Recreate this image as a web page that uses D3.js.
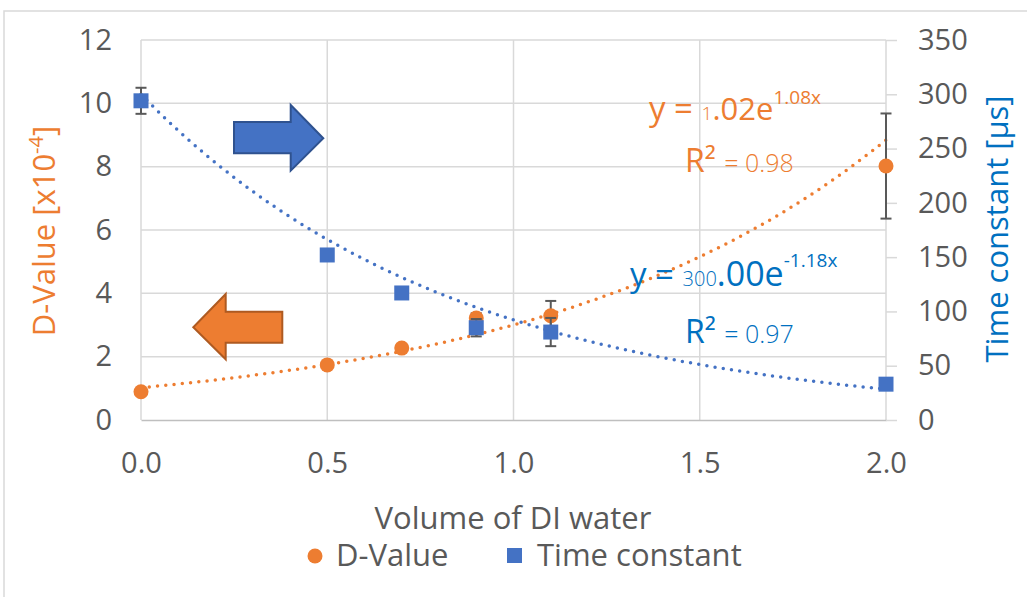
<!DOCTYPE html>
<html>
<head>
<meta charset="utf-8">
<script src="https://cdn.jsdelivr.net/npm/d3@7"></script>
<style>
  body { margin: 0; background: #fff; }
  svg { display: block; font-family: "Open Sans", "Noto Sans", sans-serif; }
</style>
</head>
<body>
<svg id="chart" width="1027" height="597"></svg>
<script>

// volume of DI water (x)
var volumes = [0, 0.5, 0.7, 0.9, 1.1, 2.0]

// D-Value [x10^-4] (left axis)
var dValues = [0.89, 1.74, 2.27, 3.22, 3.29, 8.02]
var dErrors = [0, 0, 0, 0.15, 0.47, 1.66]

// time constant [us] (right axis)
var timeConstants = [294, 152, 117, 85, 81, 33]
var timeErrors = [12, 0, 0, 8, 13, 0]

// exponential trendlines y = a * e^(b x)
var dFit = [1.02, 1.08]
var timeFit = [300, -1.18]

var xTicks = [0, 0.5, 1.0, 1.5, 2.0]
var leftTicks = [0, 2, 4, 6, 8, 10, 12]
var rightTicks = [0, 50, 100, 150, 200, 250, 300, 350]

var orange = "#ED7D31", blue = "#4472C4", titleBlue = "#0070C0", grey = "#595959", grid = "#D9D9D9"

var svg = d3.select("#chart")

var x = d3.scaleLinear().domain([0, 2]).range([141, 886])
var yL = d3.scaleLinear().domain([0, 12]).range([420, 40])
var yR = d3.scaleLinear().domain([0, 350]).range([420, 40])

// outer frame of the chart area
svg.append("path")
    .attr("d", "M4,597V11H1027")
    .attr("fill", "none")
    .attr("stroke", grid)
    .attr("stroke-width", 1.5)

// gridlines
svg.append("g").selectAll("line")
    .data(leftTicks.slice(1))
  .enter().append("line")
    .attr("x1", x(0)).attr("x2", x(2))
    .attr("y1", d => yL(d)).attr("y2", d => yL(d))
    .attr("stroke", grid).attr("stroke-width", 1.5)

svg.append("g").selectAll("line")
    .data(xTicks)
  .enter().append("line")
    .attr("x1", d => x(d)).attr("x2", d => x(d))
    .attr("y1", yL(12)).attr("y2", yL(0))
    .attr("stroke", grid).attr("stroke-width", 1.5)

// axes
var gx = svg.append("g")
    .attr("transform", "translate(0," + yL(0) + ")")
    .call(d3.axisBottom(x).tickValues(xTicks).tickFormat(d3.format(".1f")).tickSize(0))
gx.select(".domain").attr("stroke", "#BFBFBF").attr("stroke-width", 1.5)
gx.selectAll("text").attr("y", 53).attr("dy", null)

var gl = svg.append("g")
    .attr("transform", "translate(" + x(0) + ",0)")
    .call(d3.axisLeft(yL).tickValues(leftTicks).tickSize(0).tickPadding(29))
gl.select(".domain").remove()

var gr = svg.append("g")
    .attr("transform", "translate(" + x(2) + ",0)")
    .call(d3.axisRight(yR).tickValues(rightTicks).tickSizeInner(11).tickSizeOuter(0).tickPadding(21))
gr.select(".domain").remove()
gr.selectAll("line").attr("stroke", grid).attr("stroke-width", 1.5)

svg.selectAll(".tick text")
    .attr("fill", grey)
    .style("font-size", "29px")
    .style("font-family", "'Open Sans', sans-serif")

// axis titles
svg.append("text")
    .attr("transform", "translate(55,231) rotate(-90)")
    .attr("text-anchor", "middle")
    .attr("fill", orange)
    .style("font-size", "31px")
    .call(t => {
      t.append("tspan").text("D-Value [x10")
      t.append("tspan").attr("dy", -12).style("font-size", "20px").text("-4")
      t.append("tspan").attr("dy", 12).text("]")
    })

svg.append("text")
    .attr("transform", "translate(1008,229) rotate(-90)")
    .attr("text-anchor", "middle")
    .attr("fill", titleBlue)
    .style("font-size", "31px")
    .text("Time constant [µs]")

svg.append("text")
    .attr("x", 513).attr("y", 529)
    .attr("text-anchor", "middle")
    .attr("fill", grey)
    .style("font-size", "31px")
    .text("Volume of DI water")

// trendlines
var xs = d3.range(0, 2.0001, 0.02)
var line = d3.line()

svg.append("path")
    .attr("d", line(xs.map(v => [x(v), yL(dFit[0] * Math.exp(dFit[1] * v))])))
    .attr("fill", "none").attr("stroke", orange)
    .attr("stroke-width", 3.5).attr("stroke-linecap", "round")
    .attr("stroke-dasharray", "0 8.3")

svg.append("path")
    .attr("d", line(xs.map(v => [x(v), yR(timeFit[0] * Math.exp(timeFit[1] * v))])))
    .attr("fill", "none").attr("stroke", blue)
    .attr("stroke-width", 3.5).attr("stroke-linecap", "round")
    .attr("stroke-dasharray", "0 8.3")

// error bars
function errorBars(vals, errs, y) {
  var g = svg.append("g").attr("stroke", grey).attr("stroke-width", 2)
  volumes.forEach(function(v, i) {
    if (!errs[i]) return
    var cx = x(v), top = y(vals[i] + errs[i]), bot = y(vals[i] - errs[i])
    g.append("line").attr("x1", cx).attr("x2", cx).attr("y1", top).attr("y2", bot)
    g.append("line").attr("x1", cx - 5.5).attr("x2", cx + 5.5).attr("y1", top).attr("y2", top)
    g.append("line").attr("x1", cx - 5.5).attr("x2", cx + 5.5).attr("y1", bot).attr("y2", bot)
  })
}

// D-Value series
errorBars(dValues, dErrors, yL)
svg.append("g").selectAll("circle")
    .data(volumes)
  .enter().append("circle")
    .attr("cx", d => x(d))
    .attr("cy", (d, i) => yL(dValues[i]))
    .attr("r", 7.5)
    .attr("fill", orange)

// Time constant series
errorBars(timeConstants, timeErrors, yR)
svg.append("g").selectAll("rect")
    .data(volumes)
  .enter().append("rect")
    .attr("x", d => x(d) - 7.5)
    .attr("y", (d, i) => yR(timeConstants[i]) - 7.5)
    .attr("width", 15).attr("height", 15)
    .attr("fill", blue)

// arrows pointing at each series' axis
svg.append("path")
    .attr("d", "M234,122H290.7V105L323.3,138.3L290.7,170.7V153.3H234Z")
    .attr("fill", blue).attr("stroke", "#2F528F").attr("stroke-width", 2)

svg.append("path")
    .attr("d", "M282.3,311.7H225.7V294L193.3,327.3L225.7,359.3V342.7H282.3Z")
    .attr("fill", orange).attr("stroke", "#AE5A21").attr("stroke-width", 2)

// trendline equations
function equation(px, py, color, parts) {
  var t = svg.append("text").attr("x", px).attr("y", py).attr("fill", color)
  parts.forEach(function(p) {
    t.append("tspan")
      .attr("dy", p.dy || 0)
      .style("font-size", p.size + "px")
      .style("font-weight", p.weight || 400)
      .text(p.text)
  })
}

equation(649, 120, orange, [
  {text: "y = ", size: 33},
  {text: "1", size: 19, weight: 300},
  {text: ".02e", size: 31},
  {text: dFit[1].toFixed(2) + "x", size: 19, dy: -16}
])
equation(685, 172, orange, [
  {text: "R² ", size: 32},
  {text: "= 0.98", size: 25, weight: 300}
])
equation(630, 286, titleBlue, [
  {text: "y = ", size: 33},
  {text: "300", size: 20, weight: 300},
  {text: ".00e", size: 34},
  {text: timeFit[1].toFixed(2) + "x", size: 19, dy: -19}
])
equation(685, 343, titleBlue, [
  {text: "R² ", size: 32},
  {text: "= 0.97", size: 25, weight: 300}
])

// legend
svg.append("circle").attr("cx", 315).attr("cy", 556).attr("r", 7.5).attr("fill", orange)
svg.append("text").attr("x", 336).attr("y", 566).attr("fill", grey)
    .style("font-size", "31px").text("D-Value")
svg.append("rect").attr("x", 507).attr("y", 548).attr("width", 15).attr("height", 15).attr("fill", blue)
svg.append("text").attr("x", 537).attr("y", 566).attr("fill", grey)
    .style("font-size", "31px").text("Time constant")

</script>
</body>
</html>
